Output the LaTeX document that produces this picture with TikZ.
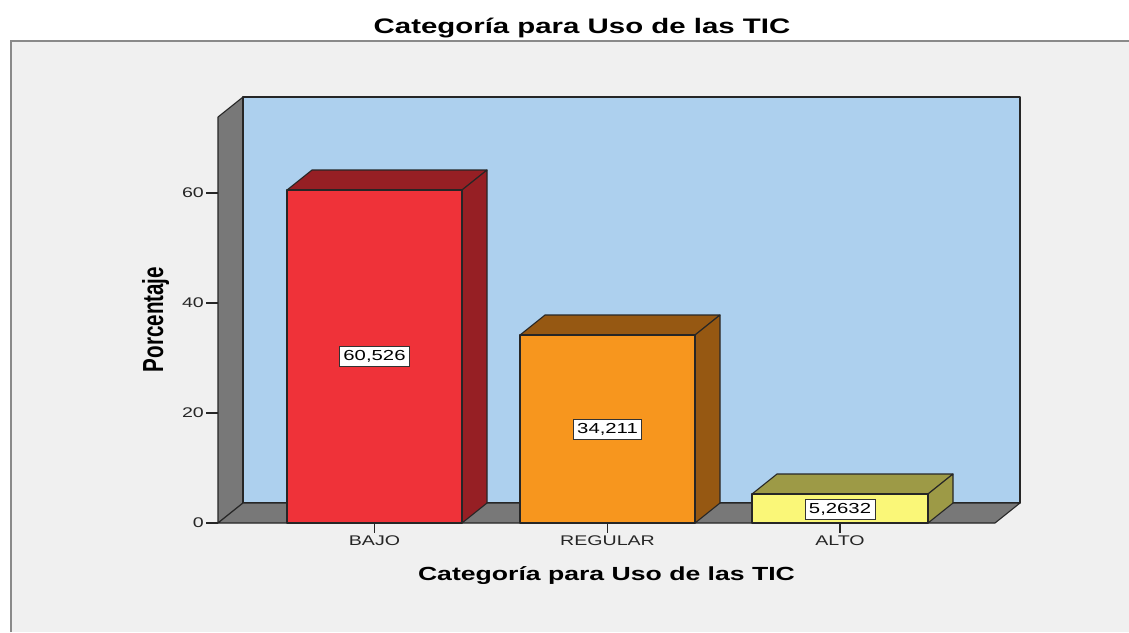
\documentclass[tikz,border=0pt]{standalone}
\usepackage{fontspec}
\setmainfont{Liberation Sans}
\newfontfamily\chartfont[FakeStretch=1.4]{Liberation Sans}
\newfontfamily\sidefont[FakeStretch=0.71]{Liberation Sans}

\definecolor{panelgray}{HTML}{F0F0F0}
\definecolor{framegray}{HTML}{8A8A8A}
\definecolor{wallblue}{HTML}{ADD0EE}
\definecolor{wallgray}{HTML}{787878}
\definecolor{bajofront}{HTML}{EF3239}
\definecolor{bajoside}{HTML}{961F24}
\definecolor{regfront}{HTML}{F7961E}
\definecolor{regside}{HTML}{965812}
\definecolor{altofront}{HTML}{FAF778}
\definecolor{altoside}{HTML}{9D9A46}

\tikzset{
  edge/.style={draw=black!85,line width=1.1pt,line join=round},
  valbox/.style={draw=black!80,fill=white,line width=0.9pt,inner xsep=4pt,inner ysep=4pt,
    font=\chartfont\fontsize{14.5pt}{14.5pt}\selectfont},
  ticklbl/.style={inner sep=1pt,text=black!85,font=\chartfont\fontsize{14pt}{14pt}\selectfont},
  tickline/.style={draw=black!85,line width=1.1pt}
}

\begin{document}
\begin{tikzpicture}[x=1pt,y=-1pt]
  \useasboundingbox (0,0) rectangle (1129,632);
  \fill[white] (0,0) rectangle (1129,632);
  \fill[panelgray] (11,41) rectangle (1129,632);
  \draw[framegray,line width=2pt] (11,632) -- (11,41) -- (1129,41);

  \node[anchor=base] (title) at (582,33) {\chartfont\bfseries\fontsize{21pt}{21pt}\selectfont Categoría para Uso de las TIC};

  \path[edge,fill=wallgray] (218,523) -- (218,117) -- (243,97) -- (243,503) -- cycle;
  \path[edge,fill=wallblue] (243,97) rectangle (1020,503);
  \path[edge,fill=wallgray] (218,523) -- (243,503) -- (1020,503) -- (995,523) -- cycle;

  \path[edge,fill=bajoside] (287,190) -- (312,170) -- (487,170) -- (462,190) -- cycle;
  \path[edge,fill=bajoside] (462,190) -- (487,170) -- (487,503) -- (462,523) -- cycle;
  \path[edge,fill=bajofront] (287,190) rectangle (462,523);

  \path[edge,fill=regside] (520,335) -- (545,315) -- (720,315) -- (695,335) -- cycle;
  \path[edge,fill=regside] (695,335) -- (720,315) -- (720,503) -- (695,523) -- cycle;
  \path[edge,fill=regfront] (520,335) rectangle (695,523);

  \path[edge,fill=altoside] (752,494) -- (777,474) -- (953,474) -- (928,494) -- cycle;
  \path[edge,fill=altoside] (928,494) -- (953,474) -- (953,503) -- (928,523) -- cycle;
  \path[edge,fill=altofront] (752,494) rectangle (928,523);

  \node[valbox] (bajo-val) at (374.5,356.5) {60,526};
  \node[valbox] (reg-val) at (607.5,429) {34,211};
  \node[valbox] (alto-val) at (840,509.5) {5,2632};

  \draw[tickline] (206,523) -- (218,523);
  \draw[tickline] (206,413) -- (218,413);
  \draw[tickline] (206,303) -- (218,303);
  \draw[tickline] (206,193) -- (218,193);
  \node[ticklbl,anchor=east] (y0) at (205,523) {0};
  \node[ticklbl,anchor=east] (y20) at (205,413) {20};
  \node[ticklbl,anchor=east] (y40) at (205,303) {40};
  \node[ticklbl,anchor=east] (y60) at (205,193) {60};

  \draw[tickline] (374.5,523) -- (374.5,533);
  \draw[tickline] (607.5,523) -- (607.5,533);
  \draw[tickline] (840,523) -- (840,533);
  \node[ticklbl,anchor=north,inner sep=0pt] (bajo-lbl) at (374.5,536) {BAJO};
  \node[ticklbl,anchor=north,inner sep=0pt] (reg-lbl) at (607.5,536) {REGULAR};
  \node[ticklbl,anchor=north,inner sep=0pt] (alto-lbl) at (840,536) {ALTO};

  \node[anchor=base] (xtitle) at (606.5,580) {\chartfont\bfseries\fontsize{19pt}{19pt}\selectfont Categoría para Uso de las TIC};
  \node[anchor=base,rotate=90] (ytitle) at (163,319.5) {\sidefont\bfseries\fontsize{29pt}{29pt}\selectfont Porcentaje};
\end{tikzpicture}
\end{document}
